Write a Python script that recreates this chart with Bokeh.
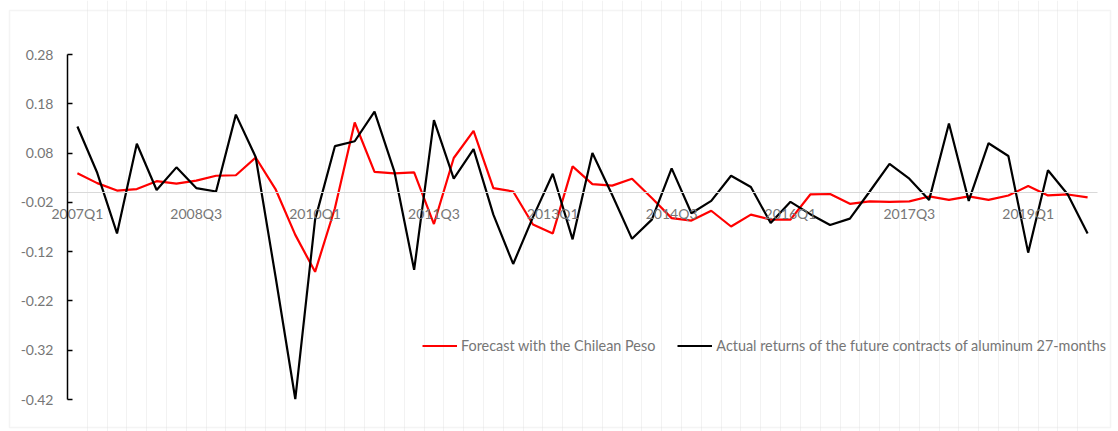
from bokeh.plotting import figure
from bokeh.models import (Range1d, FixedTicker, Legend, LegendItem, ColumnDataSource,
                          PrintfTickFormatter, BoxAnnotation)
from bokeh.embed import file_html
from bokeh.resources import INLINE

# ---------------- data ----------------
quarters = [f"{y}Q{q}" for y in range(2007, 2020) for q in range(1, 5)]

forecast = [0.039, 0.019, 0.004, 0.007, 0.023, 0.018, 0.024, 0.034, 0.035, 0.071,
            0.007, -0.086, -0.161, -0.032, 0.142, 0.042, 0.039, 0.041, -0.064, 0.070,
            0.125, 0.009, 0.002, -0.065, -0.083, 0.053, 0.017, 0.014, 0.028, -0.011,
            -0.052, -0.057, -0.037, -0.069, -0.045, -0.055, -0.055, -0.004, -0.003, -0.023,
            -0.018, -0.019, -0.018, -0.008, -0.015, -0.008, -0.015, -0.006, 0.013, -0.006,
            -0.004, -0.010]

actual = [0.134, 0.040, -0.083, 0.099, 0.005, 0.051, 0.009, 0.002, 0.158, 0.072,
          -0.170, -0.419, -0.055, 0.094, 0.104, 0.164, 0.043, -0.157, 0.147, 0.028,
          0.088, -0.045, -0.145, -0.050, 0.038, -0.095, 0.080, -0.005, -0.094, -0.055,
          0.049, -0.042, -0.017, 0.034, 0.011, -0.062, -0.019, -0.044, -0.066, -0.053,
          0.002, 0.058, 0.028, -0.015, 0.140, -0.017, 0.100, 0.074, -0.122, 0.045,
          -0.004, -0.083]

tick_labels = ["2007Q1", "2008Q3", "2010Q1", "2011Q3", "2013Q1",
               "2014Q3", "2016Q1", "2017Q3", "2019Q1"]
y_ticks = [0.28, 0.18, 0.08, -0.02, -0.12, -0.22, -0.32, -0.42]

series_names = ["Forecast with the Chilean Peso",
                "Actual returns of the future contracts of aluminum 27-months"]

# ---------------- layout (pixels) ----------------
W, H = 1118, 431
PLOT_L, PLOT_R, PLOT_T, PLOT_B = 67, 1097, 54, 399   # plot-area box in the canvas

n = len(quarters)
ymin, ymax = min(y_ticks), max(y_ticks)
xpx = (PLOT_R - PLOT_L) / n                 # pixels per category
ypx = (PLOT_B - PLOT_T) / (ymax - ymin)     # pixels per unit
x_start = -0.5 - PLOT_L / xpx
x_end = x_start + W / xpx
y_end = ymax + PLOT_T / ypx
y_start = y_end - H / ypx

x = list(range(n))
src = ColumnDataSource(dict(x=x, quarter=quarters, forecast=forecast, actual=actual))

FONT = "Lato"
GREY = "#767676"

p = figure(width=W, height=H, output_backend="svg", toolbar_location=None,
           x_range=Range1d(x_start, x_end), y_range=Range1d(y_start, y_end),
           min_border=0)
p.outline_line_color = None
p.background_fill_color = "white"
p.border_fill_color = "white"

# outer chart-area border
p.add_layout(BoxAnnotation(left=9, right=1110, top=10, bottom=427,
                           left_units="canvas", right_units="canvas",
                           top_units="canvas", bottom_units="canvas",
                           fill_alpha=0, line_color="#d9d9d9", line_width=1.5,
                           level="underlay"))

r_fc = p.line("x", "forecast", source=src, line_color="#ff0000", line_width=2.2)
r_ac = p.line("x", "actual", source=src, line_color="#000000", line_width=2.2)

# x axis at y = 0
xa = p.xaxis[0]
xa.fixed_location = 0
xa.bounds = (-0.5, n - 0.5)
xa.ticker = FixedTicker(ticks=[quarters.index(t) for t in tick_labels])
xa.major_label_overrides = {quarters.index(t): t for t in tick_labels}
xa.axis_line_color = "#d9d9d9"
xa.axis_line_width = 1.2
xa.major_tick_line_color = None
xa.minor_tick_line_color = None
xa.major_label_standoff = 6
xa.major_label_text_font = FONT
xa.major_label_text_font_size = "14px"
xa.major_label_text_color = GREY

# y axis at the left edge of the categories
ya = p.yaxis[0]
ya.fixed_location = -0.5
ya.bounds = (ymin, ymax)
ya.ticker = FixedTicker(ticks=y_ticks)
ya.formatter = PrintfTickFormatter(format="%.2f")
ya.axis_line_color = "black"
ya.axis_line_width = 1.5
ya.major_tick_line_color = "black"
ya.major_tick_line_width = 1.5
ya.major_tick_in = 5
ya.major_tick_out = 0
ya.minor_tick_line_color = None
ya.major_label_standoff = 14
ya.major_label_text_font = FONT
ya.major_label_text_font_size = "14px"
ya.major_label_text_color = GREY

# grids
p.ygrid.visible = False
p.xgrid.ticker = FixedTicker(ticks=[i + 0.5 for i in x[:-1]])
p.xgrid.grid_line_color = "#f2f2f2"
p.xgrid.grid_line_width = 1

# legend
legend = Legend(items=[LegendItem(label=series_names[0], renderers=[r_fc]),
                       LegendItem(label=series_names[1], renderers=[r_ac])],
                location=(422, 77), orientation="horizontal",
                padding=0, margin=0, spacing=22,
                glyph_width=35, glyph_height=17, label_height=17,
                label_standoff=4,
                label_text_font=FONT, label_text_font_size="14.4px",
                label_text_color=GREY,
                border_line_color=None, background_fill_alpha=0)
p.add_layout(legend)

open("out.html", "w").write(file_html(p, INLINE))
